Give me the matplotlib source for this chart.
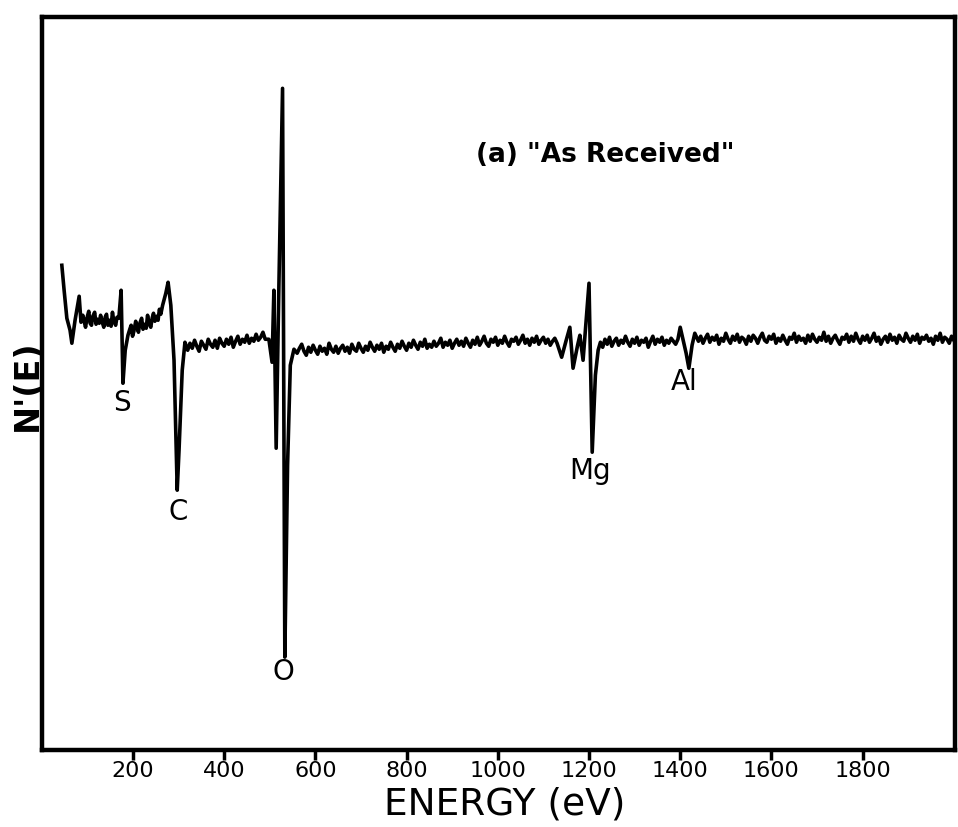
import matplotlib
matplotlib.use("Agg")
import matplotlib.pyplot as plt

# Auger spectrum, "as received" surface
# energy in eV, signal N'(E) in arbitrary units (0 ~ baseline)
energy_start = [44, 49, 55, 62, 66, 73, 82, 86, 90, 93, 96, 99, 103, 106, 109, 112, 116, 119, 122, 126, 129,
                132, 136, 139, 142, 145, 149, 152, 155, 158, 162, 165, 169,
                174, 178, 183, 189, 193, 196, 199, 202, 206, 209, 212, 215, 219, 222, 226, 229, 232, 235, 239,
                242, 245, 248, 252, 255, 258, 261, 265, 268, 272, 277, 283, 290,
                297, 301, 308, 314]
signal_start = [80, 55, 27, 15, 2, 25, 49, 23, 30, 24, 18, 27, 34, 22, 20, 29, 33, 21, 26, 22, 30,
                24, 18, 28, 31, 20, 25, 19, 33, 24, 20, 28, 27,
                55, -38, -5, 10, 16, 20, 9, 14, 24, 18, 13, 22, 27, 16, 21, 17, 30, 22, 18,
                27, 32, 24, 29, 25, 36, 31, 40, 45, 52, 63, 40, -15,
                -145, -105, -25, 3]

energy_mid = list(range(320, 491, 5)) + [498, 505, 509, 514, 520, 528, 533, 539, 545, 553]
signal_mid = [-5, 2, -3, 5, -1, -6, 4, 0, -4, 6, 1, -2, 5, -3, 7, 2, -1, 6, 1, 8,
              -2, 4, 9, 1, 6, 3, 10, 2, 7, 4, 11, 5, 8, 13, 6,
              6, -17, 55, -103, 60, 257, -312, -120, -20, -4]

energy_flat = list(range(560, 1131, 5))
signal_flat = [-8, -3, 1, -6, -10, -2, -7, 0, -5, -9,
               -1, -6, -3, -9, 2, -4, -7, -1, -8, -3,
               0, -6, -2, -8, 1, -4, -6, 2, -3, -7,
               -1, -5, 3, -2, -6, 0, -4, 2, -7, -1,
               -4, 3, -2, -6, 1, -3, 4, -1, -5, 2,
               -2, 5, 0, -4, 3, -1, 6, -3, 1, -2,
               4, -1, 2, 7, -2, 3, 0, 5, -3, 2,
               6, 0, 4, -1, 7, 2, -2, 5, 1, 8,
               0, 4, 9, 2, -1, 6, 3, 8, 0, 5,
               2, 9, 3, -1, 6, 4, 8, 1, 5, 10,
               2, 6, 0, 7, 3, 9, 1, 5, 8, 2,
               6, 0, 4, 7, 2]

energy_mg = [1140, 1150, 1158, 1165, 1175, 1180, 1187, 1200, 1207, 1214, 1220] + list(range(1225, 1396, 5)) + \
            [1400, 1408, 1413, 1419, 1426, 1432]
signal_mg = [-12, 5, 18, -23, 0, 10, -15, 62, -107, -30, -5,
             3, -2, 6, 1, 8, -1, 4, 7, 0, 5, 2, 9, 3, -1, 6, 2, 8, 0, 5, 3, 7, -2, 4, 9, 1, 6, 3, 8, 0, 5,
             2, 7, 4, 1, 6,
             18, 2, -8, -23, 0, 12]

energy_end = list(range(1440, 2001, 5))
signal_end = [4, 9, 2, 7, 11, 3, 8, 5, 10, 1,
              7, 4, 12, 6, 2, 9, 5, 11, 3, 8,
              6, 1, 9, 4, 10, 7, 2, 8, 12, 5,
              3, 9, 6, 11, 2, 7, 4, 10, 5, 1,
              8, 6, 12, 3, 9, 5, 7, 2, 10, 4,
              11, 6, 3, 8, 5, 13, 4, 9, 2, 7,
              10, 5, 1, 8, 6, 11, 3, 9, 4, 12,
              6, 2, 9, 5, 10, 3, 7, 12, 4, 8,
              1, 6, 9, 3, 11, 5, 8, 2, 10, 6,
              4, 12, 7, 3, 9, 5, 11, 2, 8, 6,
              10, 4, 7, 1, 9, 5, 12, 3, 8, 6,
              2, 9, 5]

energy = energy_start + energy_mid + energy_flat + energy_mg + energy_end
signal = signal_start + signal_mid + signal_flat + signal_mg + signal_end

peak_names = ["S", "C", "O", "Mg", "Al"]
peak_x = [176, 299, 529, 1202, 1409]
peak_y = [-58, -167, -327, -126, -37]

xticks = [200, 400, 600, 800, 1000, 1200, 1400, 1600, 1800]

fig = plt.figure(figsize=(9.58, 8.27), dpi=100)
ax = fig.add_axes([0.0436, 0.093, 0.953, 0.886])

ax.plot(energy, signal, color="black", lw=2.6, solid_joinstyle="round")

ax.set_xlim(0, 2002)
ax.set_ylim(-405, 328)

for name, x, y in zip(peak_names, peak_x, peak_y):
  ax.text(x, y, name, ha="center", va="center", fontsize=20)

ax.text(1235, 190, '(a) "As Received"', ha="center", va="center", fontsize=19, fontweight="bold")

ax.set_xticks(xticks)
ax.set_xticklabels([str(t) for t in xticks], fontsize=16)
ax.tick_params(axis="x", direction="out", length=7, width=2.5, pad=1)
ax.set_yticks([])
for s in ax.spines.values():
  s.set_linewidth(3.2)

fig.text(505/958, 1-804/827, "ENERGY (eV)", ha="center", va="center", fontsize=27)
fig.text(27/958, 1-385/827, "N'(E)", ha="center", va="center", rotation=90, fontsize=24, fontweight="bold")

plt.savefig("out.png", dpi=100)
